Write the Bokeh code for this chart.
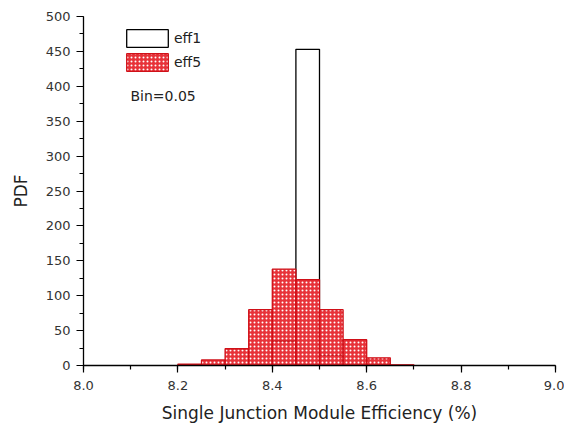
from bokeh.plotting import figure
from bokeh.models import (ColumnDataSource, SingleIntervalTicker, PrintfTickFormatter,
                          Legend, LegendItem, Label, Range1d)
from bokeh.embed import file_html
from bokeh.resources import INLINE

# Histogram bins (left/right edges, %)
bin_left = [8.20, 8.25, 8.30, 8.35, 8.40, 8.45, 8.50, 8.55, 8.60, 8.65]
bin_right = [8.25, 8.30, 8.35, 8.40, 8.45, 8.50, 8.55, 8.60, 8.65, 8.70]
eff1_pdf = [0, 0, 0, 0, 35, 453, 15, 0, 0, 0]
eff5_pdf = [2, 8, 24, 80, 138, 123, 80, 37, 11, 1]

FONT = "DejaVu Sans"

p = figure(width=564, height=425, output_backend="svg", toolbar_location=None,
           x_range=Range1d(8.0, 9.0), y_range=Range1d(0, 500),
           min_border_left=83, min_border_right=9, min_border_top=16, min_border_bottom=60)
p.outline_line_color = None
p.grid.visible = False
p.background_fill_color = "white"

src1 = ColumnDataSource(dict(left=bin_left, right=bin_right, top=eff1_pdf,
                             bottom=[0] * len(bin_left)))
src5 = ColumnDataSource(dict(left=bin_left, right=bin_right, top=eff5_pdf,
                             bottom=[0] * len(bin_left)))

r1 = p.quad(left="left", right="right", top="top", bottom="bottom", source=src1,
            fill_color="white", line_color="black", line_width=1.3)
r5 = p.quad(left="left", right="right", top="top", bottom="bottom", source=src5,
            fill_color="#e4161e", fill_alpha=0.88, line_color="#d01018", line_width=1.3,
            hatch_pattern="dot", hatch_color="white", hatch_scale=4, hatch_weight=1.2)

legend = Legend(items=[LegendItem(label="eff1", renderers=[r1]),
                       LegendItem(label="eff5", renderers=[r5])],
                location=(38, 292), orientation="vertical",
                glyph_width=52, glyph_height=22, label_height=22, spacing=2,
                label_standoff=1, padding=0, margin=0,
                border_line_alpha=0, background_fill_alpha=0,
                label_text_font=FONT, label_text_font_size="14px", label_text_color="#222")
p.add_layout(legend, "center")

p.add_layout(Label(x=47, y=270, x_units="screen", y_units="screen", text="Bin=0.05",
                   text_font=FONT, text_font_size="14px", text_color="#222",
                   text_baseline="middle"))

for ax in (p.xaxis[0], p.yaxis[0]):
    ax.axis_line_color = "black"
    ax.axis_line_width = 1.3
    ax.major_tick_line_color = "black"
    ax.minor_tick_line_color = "black"
    ax.major_tick_line_width = 1.2
    ax.minor_tick_line_width = 1.2
    ax.major_tick_out = 7
    ax.major_tick_in = 0
    ax.minor_tick_out = 4
    ax.minor_tick_in = 0
    ax.major_label_text_font = FONT
    ax.major_label_text_font_size = "13px"
    ax.major_label_text_color = "#333"
    ax.axis_label_text_font = FONT
    ax.axis_label_text_font_size = "17px"
    ax.axis_label_text_font_style = "normal"
    ax.axis_label_text_color = "#222"

p.xaxis[0].ticker = SingleIntervalTicker(interval=0.2, num_minor_ticks=2)
p.xaxis[0].formatter = PrintfTickFormatter(format="%.1f")
p.xaxis[0].axis_label = "Single Junction Module Efficiency (%)"
p.xaxis[0].axis_label_standoff = 10
p.xaxis[0].major_label_standoff = 8

p.yaxis[0].ticker = SingleIntervalTicker(interval=50, num_minor_ticks=2)
p.yaxis[0].axis_label = "PDF"
p.yaxis[0].axis_label_standoff = 12
p.yaxis[0].major_label_standoff = 6

open("out.html", "w").write(file_html(p, INLINE))
